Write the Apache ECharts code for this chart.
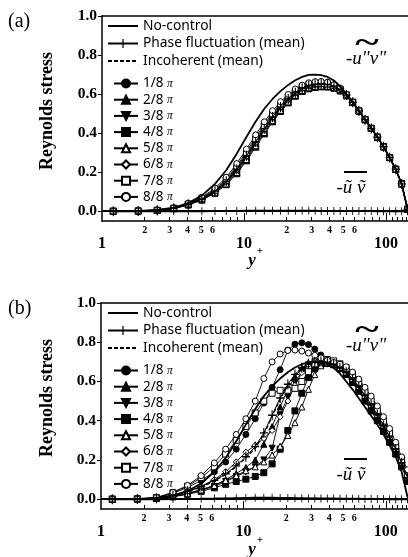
<!DOCTYPE html>
<html><head><meta charset="utf-8">
<script src="https://cdn.jsdelivr.net/npm/echarts@6/dist/echarts.min.js"></script>
<style>html,body{margin:0;padding:0;background:#fff}#c{width:408px;height:557px}</style>
</head><body><div id="c"></div>
<script>
// ---------- data ----------
const yPlus = [1.2, 1.8, 2.45, 3.2, 4.05, 5.05, 6.25, 7.5, 8.9, 10.4, 12.1, 13.9, 15.9, 18.1, 20.5, 23.0, 25.7, 28.6, 31.7, 35.0, 38.8, 43.0, 47.6, 52.7, 58.3, 64.5, 71.3, 78.8, 87.1, 96.2, 106.2, 117.2, 129, 142];

const noControl = [0.000,0.002,0.007,0.018,0.042,0.080,0.140,0.210,0.295,0.380,0.460,0.525,0.575,0.615,0.647,0.671,0.688,0.698,0.700,0.697,0.688,0.670,0.640,0.600,0.560,0.515,0.470,0.425,0.380,0.330,0.275,0.215,0.140,0.010];

// panel (a)
const phaseMeanA = [0,0.001,0.005,0.015,0.036,0.063,0.103,0.153,0.215,0.284,0.355,0.423,0.483,0.534,0.575,0.607,0.630,0.644,0.650,0.652,0.650,0.641,0.623,0.595,0.558,0.514,0.469,0.424,0.379,0.330,0.275,0.215,0.140,0.010];
const incoherentA = [0,0.001,0.005,0.015,0.035,0.062,0.101,0.150,0.211,0.279,0.350,0.418,0.478,0.529,0.571,0.603,0.626,0.640,0.647,0.649,0.647,0.639,0.621,0.594,0.557,0.513,0.469,0.424,0.379,0.330,0.275,0.215,0.140,0.010];
const coherentA = [0,0,0,0,0,0,0.001,0.001,0.001,0.002,0.002,0.002,0.002,0.002,0.002,0.002,0.002,0.002,0.002,0.001,0.001,0.001,0.001,0.001,0.001,0.001,0.001,0.001,0,0,0,0,0,0];
const phase1A = [0,0.001,0.005,0.016,0.038,0.068,0.112,0.165,0.232,0.305,0.378,0.445,0.503,0.550,0.588,0.617,0.638,0.651,0.658,0.660,0.657,0.646,0.627,0.597,0.560,0.515,0.470,0.425,0.380,0.330,0.275,0.215,0.140,0.010];
const phase2A = [0,0.001,0.005,0.015,0.036,0.064,0.105,0.155,0.218,0.288,0.360,0.428,0.488,0.538,0.578,0.609,0.631,0.645,0.651,0.652,0.649,0.640,0.623,0.595,0.558,0.514,0.469,0.424,0.379,0.330,0.275,0.215,0.140,0.010];
const phase3A = [0,0.001,0.004,0.014,0.034,0.060,0.098,0.145,0.204,0.272,0.343,0.411,0.472,0.524,0.566,0.599,0.623,0.637,0.644,0.646,0.644,0.636,0.620,0.593,0.557,0.513,0.469,0.424,0.379,0.330,0.275,0.215,0.140,0.010];
const phase4A = [0,0.001,0.004,0.013,0.032,0.057,0.092,0.136,0.192,0.258,0.328,0.396,0.458,0.511,0.555,0.589,0.613,0.627,0.634,0.637,0.636,0.630,0.616,0.591,0.556,0.513,0.468,0.424,0.379,0.330,0.275,0.215,0.140,0.010];
const phase5A = [0,0.001,0.004,0.014,0.033,0.059,0.095,0.140,0.198,0.265,0.335,0.403,0.464,0.517,0.560,0.594,0.618,0.632,0.639,0.641,0.640,0.633,0.618,0.592,0.557,0.513,0.469,0.424,0.379,0.330,0.275,0.215,0.140,0.010];
const phase6A = [0,0.001,0.005,0.015,0.035,0.062,0.101,0.150,0.211,0.280,0.351,0.419,0.480,0.531,0.572,0.604,0.627,0.641,0.647,0.649,0.647,0.638,0.621,0.594,0.558,0.514,0.469,0.424,0.379,0.330,0.275,0.215,0.140,0.010];
const phase7A = [0,0.001,0.005,0.016,0.037,0.066,0.108,0.160,0.225,0.296,0.369,0.437,0.496,0.545,0.584,0.614,0.635,0.648,0.654,0.655,0.652,0.643,0.625,0.596,0.559,0.514,0.470,0.425,0.380,0.330,0.275,0.215,0.140,0.010];
const phase8A = [0,0.002,0.006,0.017,0.040,0.072,0.118,0.174,0.244,0.318,0.391,0.458,0.515,0.561,0.598,0.626,0.646,0.658,0.664,0.665,0.661,0.649,0.629,0.598,0.560,0.515,0.470,0.425,0.380,0.330,0.275,0.215,0.140,0.010];

// panel (b)
const phaseMeanB = [0,0.001,0.005,0.019,0.040,0.065,0.096,0.130,0.170,0.216,0.268,0.338,0.428,0.516,0.586,0.636,0.670,0.690,0.700,0.702,0.698,0.688,0.670,0.647,0.613,0.573,0.529,0.481,0.431,0.377,0.319,0.256,0.186,0.109];
const incoherentB = [0,0.001,0.005,0.018,0.038,0.062,0.092,0.125,0.165,0.210,0.260,0.330,0.420,0.510,0.580,0.630,0.665,0.685,0.695,0.698,0.695,0.685,0.668,0.645,0.612,0.572,0.528,0.480,0.430,0.376,0.318,0.255,0.185,0.108];
const coherentB = [0,0,0,0.001,0.001,0.002,0.003,0.004,0.005,0.006,0.007,0.007,0.007,0.006,0.006,0.005,0.005,0.004,0.004,0.003,0.003,0.003,0.002,0.002,0.002,0.002,0.001,0.001,0.001,0.001,0,0,0,0];
const phase1B = [0,0.001,0.006,0.030,0.060,0.095,0.140,0.190,0.255,0.330,0.410,0.490,0.570,0.660,0.760,0.790,0.797,0.788,0.765,0.735,0.712,0.692,0.673,0.650,0.620,0.582,0.540,0.495,0.448,0.395,0.335,0.270,0.200,0.130];
const phase2B = [0,0.001,0.004,0.014,0.030,0.048,0.070,0.100,0.130,0.162,0.200,0.280,0.370,0.470,0.560,0.625,0.668,0.695,0.708,0.712,0.705,0.690,0.670,0.645,0.610,0.570,0.525,0.478,0.430,0.375,0.318,0.255,0.185,0.110];
const phase3B = [0,0.001,0.004,0.013,0.028,0.045,0.065,0.090,0.115,0.140,0.165,0.200,0.260,0.430,0.520,0.595,0.650,0.685,0.700,0.703,0.698,0.684,0.665,0.640,0.605,0.565,0.520,0.472,0.425,0.370,0.312,0.250,0.180,0.105];
const phase4B = [0,0.001,0.004,0.012,0.025,0.040,0.058,0.076,0.090,0.102,0.116,0.135,0.180,0.255,0.350,0.450,0.540,0.620,0.665,0.687,0.692,0.685,0.665,0.635,0.595,0.550,0.500,0.450,0.400,0.345,0.290,0.230,0.165,0.090];
const phase5B = [0,0.001,0.004,0.013,0.028,0.047,0.070,0.095,0.120,0.145,0.165,0.190,0.225,0.270,0.325,0.390,0.470,0.560,0.635,0.680,0.695,0.690,0.672,0.648,0.615,0.575,0.530,0.482,0.432,0.378,0.320,0.258,0.190,0.110];
const phase6B = [0,0.001,0.005,0.018,0.038,0.065,0.100,0.140,0.190,0.240,0.275,0.310,0.350,0.420,0.500,0.580,0.645,0.685,0.705,0.710,0.706,0.695,0.678,0.655,0.620,0.580,0.535,0.487,0.437,0.382,0.323,0.260,0.190,0.110];
const phase7B = [0,0.001,0.008,0.033,0.066,0.110,0.165,0.230,0.300,0.370,0.440,0.500,0.540,0.555,0.555,0.565,0.600,0.650,0.690,0.708,0.712,0.705,0.690,0.668,0.635,0.595,0.550,0.502,0.452,0.398,0.338,0.272,0.200,0.120];
const phase8B = [0,0.001,0.008,0.035,0.070,0.120,0.185,0.255,0.330,0.410,0.500,0.615,0.700,0.740,0.758,0.760,0.755,0.745,0.733,0.720,0.708,0.697,0.688,0.675,0.648,0.612,0.570,0.525,0.475,0.420,0.360,0.290,0.215,0.150];

const phaseNames = ['1/8 π','2/8 π','3/8 π','4/8 π','5/8 π','6/8 π','7/8 π','8/8 π'];
const lineNames = ['No-control','Phase fluctuation (mean)','Incoherent (mean)'];
const xMinorLabels = [2,3,4,5,6,20,30,40,50,60];
const xMajorLabels = [1,10,100];
const xMinorTicks = [2,3,4,5,6,7,8,9,20,30,40,50,60,70,80,90,110,120,130,140];
const xMajorTicks = [10,100];
const yTicks = [0,0.2,0.4,0.6,0.8,1.0];

// ---------- styles ----------
const SERIF = "'Liberation Serif','Times New Roman',serif";
const SANS = "'Noto Sans','DejaVu Sans',sans-serif";
const PLUS = 'path://M-0.14,-1L0.14,-1L0.14,-0.14L1,-0.14L1,0.14L0.14,0.14L0.14,1L-0.14,1L-0.14,0.14L-1,0.14L-1,-0.14L-0.14,-0.14Z';
const markerStyles = [
  {symbol:'circle', fill:'#000'},
  {symbol:'triangle', fill:'#000'},
  {symbol:'triangle', fill:'#000', rotate:180},
  {symbol:'rect', fill:'#000'},
  {symbol:'triangle', fill:'#fff'},
  {symbol:'diamond', fill:'#fff'},
  {symbol:'rect', fill:'#fff'},
  {symbol:'circle', fill:'#fff'}
];

const pair = ys => yPlus.map((x, i) => [x, ys[i]]);

const grids = [
  {left:102, top:16, width:306, height:205},
  {left:101, top:303, width:307, height:206}
];

const xAxes = [], yAxes = [];
grids.forEach((g, gi) => {
  xAxes.push({ // minor ticks & labels (series axis)
    type:'log', logBase:10, gridIndex:gi, min:1, max:143, position:'bottom',
    axisLine:{show:true, onZero:false, lineStyle:{color:'#000', width:1.5}},
    axisTick:{show:true, inside:true, length:4, customValues:xMinorTicks, lineStyle:{color:'#000', width:1}},
    axisLabel:{customValues:xMinorLabels, color:'#000', fontFamily:SERIF, fontWeight:'bold', fontSize:10, margin:4,
      formatter: v => String(Math.round(v >= 10 ? v/10 : v))},
    splitLine:{show:false}
  });
  xAxes.push({ // major ticks & labels
    type:'log', logBase:10, gridIndex:gi, min:1, max:143, position:'bottom',
    axisLine:{show:false, onZero:false},
    axisTick:{show:true, inside:true, length:8, customValues:xMajorTicks, lineStyle:{color:'#000', width:1}},
    axisLabel:{customValues:xMajorLabels, color:'#000', fontFamily:SERIF, fontWeight:'bold', fontSize:16, margin:15,
      formatter: v => String(Math.round(v))},
    splitLine:{show:false}
  });
  xAxes.push({ // top frame line
    type:'log', logBase:10, gridIndex:gi, min:1, max:143, position:'top',
    axisLine:{show:true, onZero:false, lineStyle:{color:'#000', width:1.5}},
    axisTick:{show:false}, axisLabel:{show:false}, splitLine:{show:false}
  });
  yAxes.push({
    type:'value', gridIndex:gi, min:-0.05, max:1.0, position:'left',
    axisLine:{show:true, onZero:false, lineStyle:{color:'#000', width:1.5}},
    axisTick:{show:true, inside:false, length:4, customValues:yTicks, lineStyle:{color:'#000', width:1}},
    axisLabel:{customValues:yTicks, color:'#000', fontFamily:SERIF, fontWeight:'bold', fontSize:15.5, margin:5,
      formatter: v => v.toFixed(1)},
    splitLine:{show:false}
  });
});

const series = [];
function addPanel(gi, d) {
  const xi = gi * 3, yi = gi;
  const base = {type:'line', xAxisIndex:xi, yAxisIndex:yi, animation:false, clip:true};
  series.push(Object.assign({}, base, {
    name:'No-control', data:pair(noControl), symbol:'none', color:'#000',
    lineStyle:{color:'#000', width:1.8}, z:5
  }));
  series.push(Object.assign({}, base, {
    name:'Phase fluctuation (mean)', data:pair(d.mean), symbol:PLUS, symbolSize:[8,10], color:'#000',
    itemStyle:{color:'#000'}, lineStyle:{color:'#000', width:1}, z:4
  }));
  series.push(Object.assign({}, base, {
    name:'Incoherent (mean)', data:pair(d.inc), symbol:'none', color:'#000',
    lineStyle:{color:'#000', width:1.2, type:[4,2]}, z:4
  }));
  d.phases.forEach((arr, k) => {
    const m = markerStyles[k];
    series.push(Object.assign({}, base, {
      name:phaseNames[k], data:pair(arr), symbol:m.symbol, symbolRotate:m.rotate || 0, symbolSize:6,
      showSymbol:true, color:'#000',
      itemStyle:{color:m.fill, borderColor:'#000', borderWidth:1},
      lineStyle:{color:'#000', width:0.9}, z:3
    }));
  });
  // coherent part, near zero
  series.push(Object.assign({}, base, {
    name:'Phase fluctuation (mean)', data:pair(d.coh), symbol:PLUS, symbolSize:[6,8], color:'#000',
    itemStyle:{color:'#000'}, lineStyle:{color:'#000', width:2}, z:6,
    markLine:{silent:true, symbol:'none', label:{show:false}, animation:false,
      lineStyle:{color:'#000', width:2, type:'solid'}, data:[{yAxis:0}]}
  }));
}
addPanel(0, {mean:phaseMeanA, inc:incoherentA, coh:coherentA,
  phases:[phase1A,phase2A,phase3A,phase4A,phase5A,phase6A,phase7A,phase8A]});
addPanel(1, {mean:phaseMeanB, inc:incoherentB, coh:coherentB,
  phases:[phase1B,phase2B,phase3B,phase4B,phase5B,phase6B,phase7B,phase8B]});

const hiddenSym = {color:'rgba(0,0,0,0)', borderColor:'rgba(0,0,0,0)', borderWidth:0, opacity:0};
const legendLineData = [
  {name:'No-control', itemStyle:hiddenSym},
  {name:'Phase fluctuation (mean)'},
  {name:'Incoherent (mean)', itemStyle:hiddenSym}
];
const legendText = {color:'#000', fontFamily:SANS, fontSize:13.8, lineHeight:11};
const phaseLegendText = {color:'#000', fontFamily:SANS, fontSize:13.5, lineHeight:10,
  rich:{t:{fontFamily:SANS, fontSize:13.5, lineHeight:10, color:'#000'}, p:{fontFamily:SERIF, fontStyle:'italic', fontSize:11.5, lineHeight:10, color:'#000'}}};
const legends = [];
[0, 287].forEach(off => {
  legends.push({orient:'vertical', left:107, top:19 + off, itemWidth:30, itemHeight:11, itemGap:3.5,
    selectedMode:false, data:legendLineData, textStyle:legendText, padding:0});
  legends.push({orient:'vertical', left:113, top:76.5 + off, itemWidth:24, itemHeight:10, itemGap:2.2,
    selectedMode:false, data:phaseNames, textStyle:phaseLegendText, padding:0,
    formatter: n => '{t|' + n.replace(' π','') + '} {p|π}'});
});

const graphics = [];
[0, 287].forEach((off, gi) => {
  graphics.push({type:'text', x:8, y:12 + off, style:{text: gi ? '(b)' : '(a)', font:"20px 'Liberation Serif'", fill:'#000'}});
  graphics.push({type:'text', x:47, y:111 + off, rotation:Math.PI/2,
    style:{text:'Reynolds stress', font:"bold 18px 'Liberation Serif'", fill:'#000', align:'center', verticalAlign:'middle', textAlign:'center', textVerticalAlign:'middle'}});
  graphics.push({type:'text', x:252, y:261 + off + (gi ? 2 : 0),
    style:{text:'y', font:"italic bold 17px 'Liberation Serif'", fill:'#000', align:'center', verticalAlign:'middle', textAlign:'center', textVerticalAlign:'middle'}});
  graphics.push({type:'text', x:260, y:251 + off + (gi ? 2 : 0),
    style:{text:'+', font:"bold 11px 'Liberation Serif'", fill:'#000', align:'center', verticalAlign:'middle', textAlign:'center', textVerticalAlign:'middle'}});
  graphics.push({type:'text', x:366, y:59 + off,
    style:{text:'-u"v"', font:"italic 19px 'Liberation Serif'", fill:'#000', align:'center', verticalAlign:'middle', textAlign:'center', textVerticalAlign:'middle'}});
  graphics.push({type:'text', x:367, y:44 + off, scaleX:1.5,
    style:{text:'~', font:"bold 30px 'Liberation Serif'", fill:'#000', align:'center', verticalAlign:'middle', textAlign:'center', textVerticalAlign:'middle'}});
  graphics.push({type:'text', x:351, y:188 + off,
    style:{text:'-ũ ṽ', font:"italic 19px 'Liberation Serif'", fill:'#000', align:'center', verticalAlign:'middle', textAlign:'center', textVerticalAlign:'middle'}});
  graphics.push({type:'line', shape:{x1:344, y1:172 + off, x2:367, y2:172 + off}, style:{stroke:'#000', lineWidth:2}});
});

const chart = echarts.init(document.getElementById('c'), null, {renderer:'canvas'});
chart.setOption({
  animation:false,
  backgroundColor:'#fff',
  grid:grids,
  xAxis:xAxes,
  yAxis:yAxes,
  legend:legends,
  series:series,
  graphic:graphics
});
</script>
</body></html>
